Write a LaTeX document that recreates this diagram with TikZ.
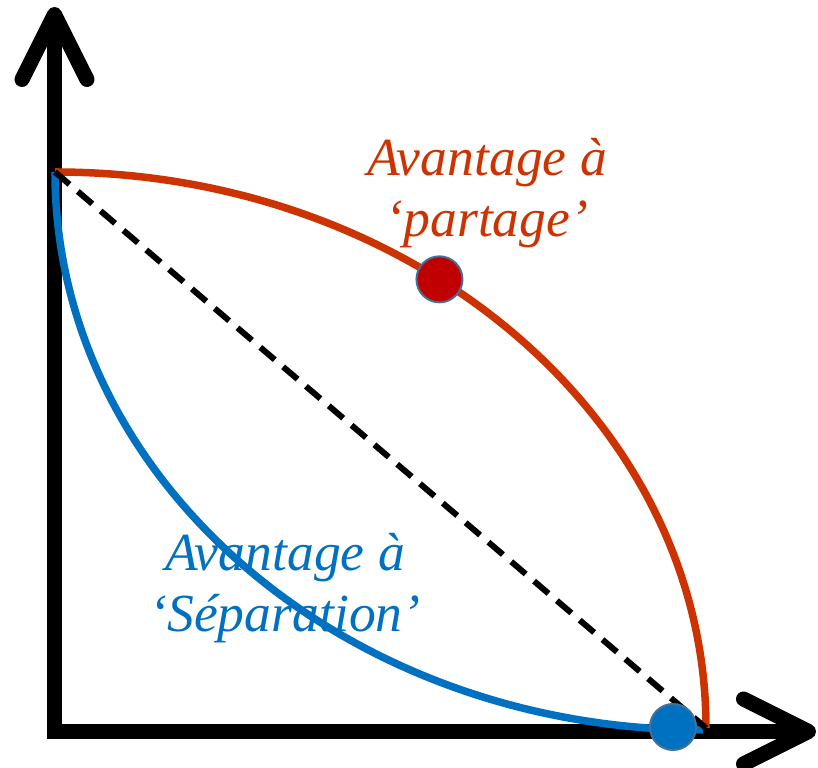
\documentclass[tikz,border=0pt]{standalone}
\usepackage{fontspec}
\setmainfont{Liberation Serif}
\usepackage{tikz}
\usetikzlibrary{arrows.meta, calc}
\usepackage{xcolor}
\definecolor{partred}{RGB}{204,51,0}
\definecolor{dotred}{RGB}{192,0,0}
\definecolor{sepblue}{RGB}{0,112,192}
\definecolor{dotedge}{RGB}{65,113,156}

\tikzset{
  axis/.style={line width=0.3cm, line join=miter,
    {Straight Barb[length=1.3cm, width=1.3cm, round]}-{Straight Barb[length=1.3cm, width=1.3cm, round]}},
  curve/.style={line width=0.15cm},
  dot/.style={circle, fill=#1, draw=dotedge, line width=0.04cm, minimum size=0.92cm, inner sep=0pt},
  label/.style={font=\itshape\fontsize{30.5}{35}\selectfont, align=center}
}

\begin{document}
\begin{tikzpicture}
\useasboundingbox (0,0) rectangle (16.36,15.36);
\coordinate (O) at (1.09,0.73);
\coordinate (ytip) at (1.09,15.22);
\coordinate (xtip) at (16.32,0.73);
\coordinate (top) at (1.1,11.92);
\coordinate (endR) at (14.12,0.8);

\draw[axis] (ytip) -- (O) -- (xtip);

\draw[curve, partred] (top) arc[start angle=90, end angle=0, x radius=13.02, y radius=11.12];
\draw[curve, sepblue] (top) arc[start angle=180, end angle=270, x radius=12.96, y radius=11.16];
\draw[line width=0.12cm, dash pattern=on 0.38cm off 0.22cm] (top) -- (endR);

\node[dot=dotred] (pdot) at ($(1.1,0.8)+(53.8:13.02cm and 11.12cm)$) {};
\node[dot=sepblue] (sdot) at (13.46,0.82) {};

\node[label, text=partred] (partage) at (9.74,11.5) {Avantage à\\‘partage’};
\node[label, text=sepblue] (separation) at (5.7,3.6) {Avantage à\\‘Séparation’};
\end{tikzpicture}
\end{document}
